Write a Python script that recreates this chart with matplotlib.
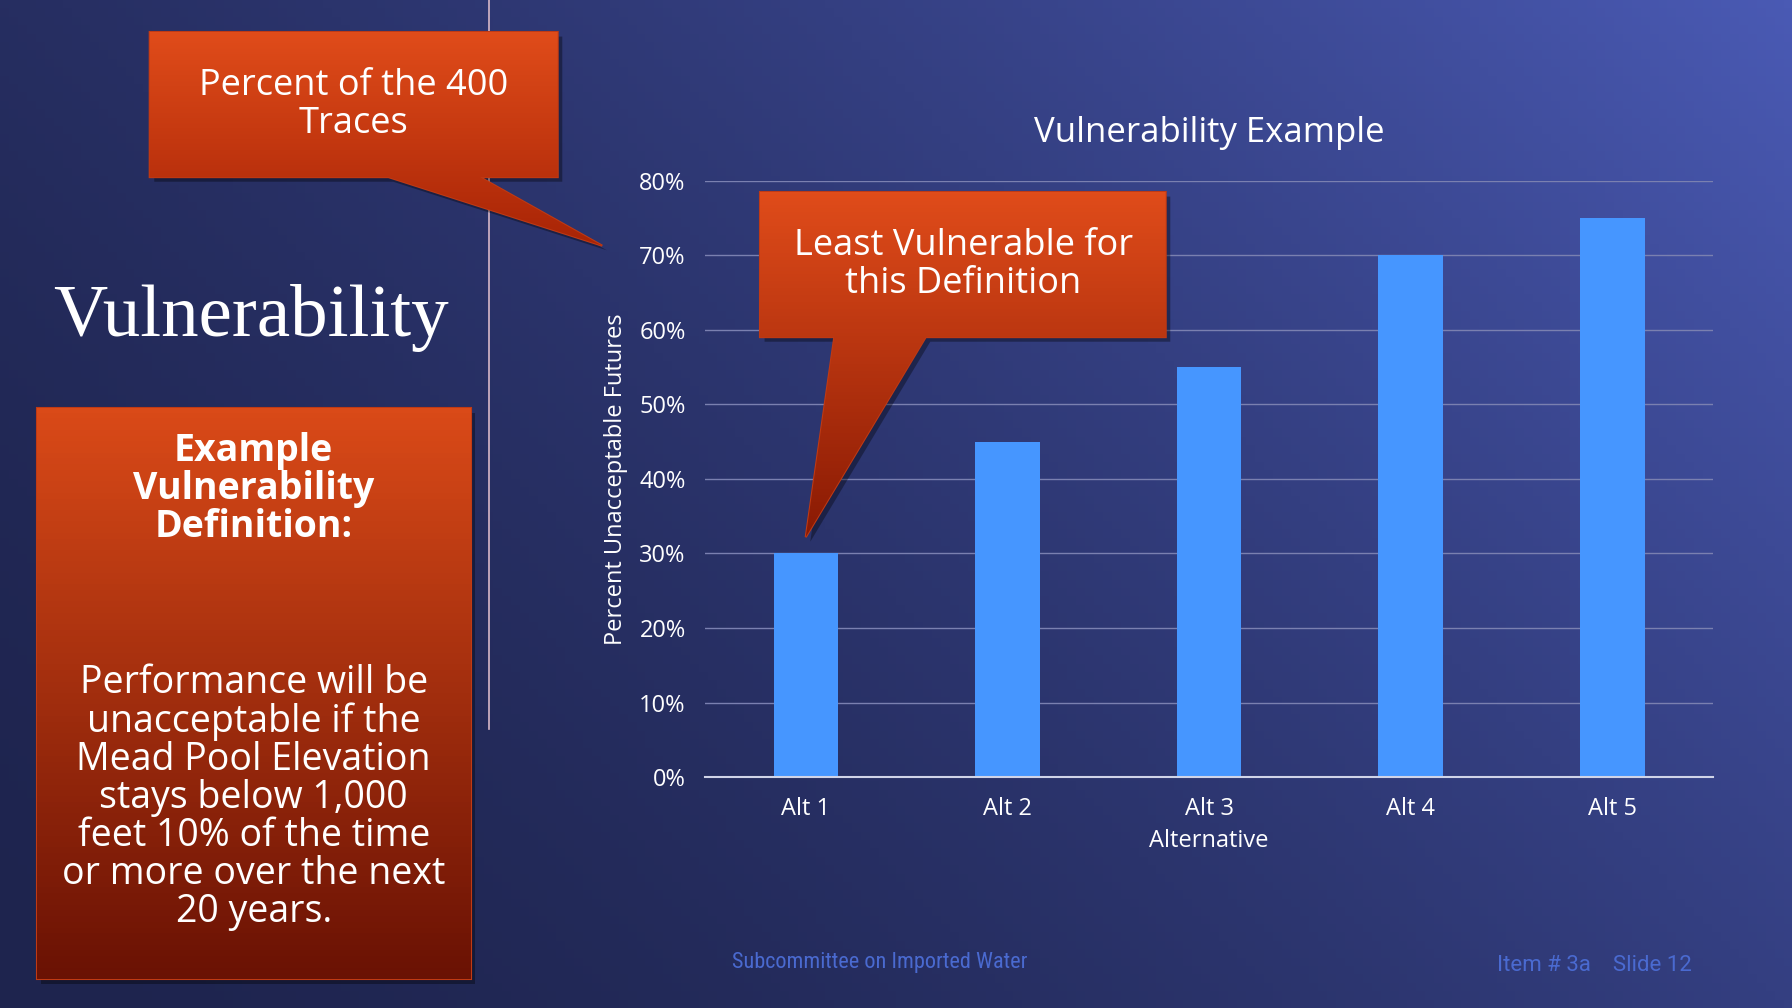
import numpy as np
import matplotlib
matplotlib.use('Agg')
import matplotlib.pyplot as plt
from matplotlib.patches import Polygon
from matplotlib.ticker import PercentFormatter

# data
alternatives = ['Alt 1', 'Alt 2', 'Alt 3', 'Alt 4', 'Alt 5']
vulnerability = [30, 45, 55, 70, 75]
yticks = [0, 10, 20, 30, 40, 50, 60, 70, 80]

W, H = 1568, 882  # reference pixel frame
fig = plt.figure(figsize=(17.92, 10.08), dpi=100)
font = 'Open Sans'

# background gradient
bg = fig.add_axes([0, 0, 1, 1], zorder=0)
bg.set_xlim(0, W); bg.set_ylim(H, 0); bg.axis('off')
xx, yy = np.meshgrid(np.linspace(0, 1, 200), np.linspace(0, 1, 120))
t = np.clip(0.65 * xx + 0.35 * (1 - yy), 0, 1)[..., None]
c0 = np.array([0x1e, 0x24, 0x4e]) / 255
c1 = np.array([0x4a, 0x5a, 0xb4]) / 255
img = c0 + (c1 - c0) * t ** 1.6
bg.imshow(img, extent=[0, W, H, 0], aspect='auto')
bg.plot([428, 428], [0, 638], color='#d8b8c8', lw=1.2)
bg.text(220, 278, 'Vulnerability', family='Liberation Serif', fontsize=54,
        color='white', ha='center', va='center')
bg.text(770, 842, 'Subcommittee on Imported Water', family='Roboto Condensed',
        fontsize=16, color='#4a6ad0', ha='center', va='center')
bg.text(1395, 845, 'Item # 3a    Slide 12', family='Roboto', fontsize=16,
        color='#4a6ad0', ha='center', va='center')

# chart
ax = fig.add_axes([617 / W, 1 - 680 / H, (1499 - 617) / W, (680 - 158) / H], zorder=1)
ax.patch.set_alpha(0)
ax.bar(alternatives, vulnerability, width=0.32, color='#4696ff', zorder=2)
ax.set_ylim(0, 80)
ax.set_xlim(-0.5, 4.5)
ax.set_yticks(yticks)
ax.yaxis.set_major_formatter(PercentFormatter(decimals=0))
ax.grid(axis='y', color='#7a80b0', lw=1, zorder=0)
for s in ['top', 'right', 'left']:
    ax.spines[s].set_visible(False)
ax.spines['bottom'].set_color('#d0d4e8')
ax.spines['bottom'].set_linewidth(1.5)
ax.tick_params(length=0, colors='white', labelsize=17, pad=14)
for lab in ax.get_xticklabels() + ax.get_yticklabels():
    lab.set_family(font)
ax.set_xlabel('Alternative', color='white', fontsize=17, family=font, labelpad=6)
ax.set_ylabel('Percent Unacceptable Futures', color='white', fontsize=17,
              family=font, labelpad=8)
ax.set_title('Vulnerability Example', color='white', fontsize=25, family=font, pad=28)

# callouts
fg = fig.add_axes([0, 0, 1, 1], zorder=2)
fg.set_xlim(0, W); fg.set_ylim(H, 0); fg.axis('off')


def callout(pts, top, bot, y0, y1):
    poly = Polygon(pts, closed=True, facecolor='none', edgecolor='#c03a14', lw=1.5)
    fg.add_patch(poly)
    g = np.linspace(0, 1, 100)[:, None, None]
    a = np.array(top) / 255; b = np.array(bot) / 255
    grad = np.repeat(a + (b - a) * g, 2, axis=1)
    im = fg.imshow(grad, extent=[0, W, y1, y0], aspect='auto', zorder=1)
    im.set_clip_path(poly)
    shadow = Polygon([(x + 4, y + 4) for x, y in pts], closed=True,
                     facecolor='black', alpha=0.35, zorder=0.5)
    fg.add_patch(shadow)


callout([(131, 28), (488, 28), (488, 155), (420, 155), (527, 215), (340, 155), (131, 155)],
        (0xe0, 0x4c, 0x1a), (0xa8, 0x24, 0x06), 28, 215)
callout([(665, 168), (1020, 168), (1020, 295), (810, 295), (705, 470), (730, 295), (665, 295)],
        (0xe0, 0x4c, 0x1a), (0x8a, 0x1a, 0x04), 168, 470)
callout([(32, 357), (412, 357), (412, 857), (32, 857)],
        (0xda, 0x4a, 0x18), (0x6a, 0x12, 0x04), 357, 857)

fg.text(309, 92, 'Percent of the 400\nTraces', color='white', fontsize=26, family=font,
        ha='center', va='center', linespacing=1.05, zorder=3)
fg.text(843, 232, 'Least Vulnerable for\nthis Definition', color='white', fontsize=26,
        family=font, ha='center', va='center', linespacing=1.05, zorder=3)
fg.text(222, 428, 'Example\nVulnerability\nDefinition:', color='white', fontsize=27,
        family=font, weight='bold', ha='center', va='center', linespacing=1.0, zorder=3)
fg.text(222, 698, 'Performance will be\nunacceptable if the\nMead Pool Elevation\n'
        'stays below 1,000\nfeet 10% of the time\nor more over the next\n20 years.',
        color='white', fontsize=27, family=font, ha='center', va='center',
        linespacing=1.0, zorder=3)

fig.savefig('out.png', dpi=100)
